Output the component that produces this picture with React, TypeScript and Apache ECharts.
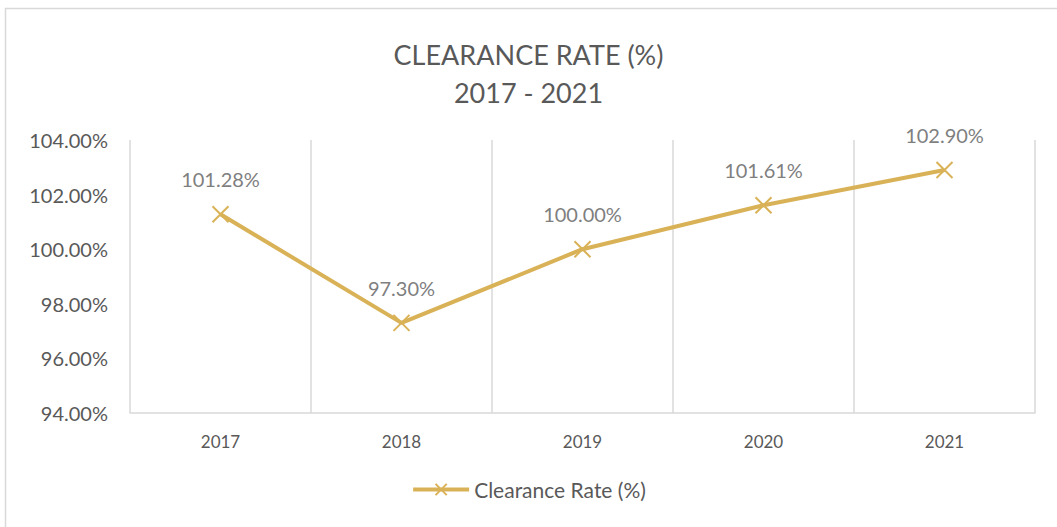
import React, { useEffect, useRef } from "react";
import * as echarts from "echarts";

const categories = ["2017", "2018", "2019", "2020", "2021"];
const clearanceRate = [101.28, 97.3, 100.0, 101.61, 102.9];
const seriesName = "Clearance Rate (%)";
const titleLines = ["CLEARANCE RATE (%)", "2017 - 2021"];
const yMin = 94;
const yMax = 104;
const yStep = 2;

const GOLD = "#D9B257";
const XMARK = "path://M0,0L10,10M10,0L0,10";

export default function App() {
  const ref = useRef<HTMLDivElement>(null);
  useEffect(() => {
    if (!ref.current) return;
    const chart = echarts.init(ref.current, undefined, { renderer: "svg" });
    chart.setOption({
      animation: false,
      backgroundColor: "#ffffff",
      textStyle: { fontFamily: "Lato, 'Open Sans', sans-serif" },
      title: {
        text: titleLines.join("\n"),
        left: "center",
        top: 30,
        textStyle: {
          fontSize: 27,
          fontWeight: "normal",
          color: "#595959",
          lineHeight: 38,
          fontFamily: "Lato, 'Open Sans', sans-serif",
        },
      },
      graphic: [
        {
          type: "rect",
          shape: { x: 5.5, y: 8.5, width: 1200, height: 700 },
          style: { fill: "none", stroke: "#d9d9d9", lineWidth: 1.5 },
          silent: true,
        },
      ],
      legend: {
        bottom: 22,
        left: "center",
        itemWidth: 56,
        itemHeight: 14,
        itemGap: 8,
        lineStyle: { width: 4, color: GOLD },
        textStyle: { fontSize: 21, color: "#595959" },
        data: [seriesName],
      },
      grid: { left: 130, right: 22, top: 140, bottom: 114 },
      xAxis: {
        type: "category",
        data: categories,
        boundaryGap: true,
        axisLine: { show: true, lineStyle: { color: "#d9d9d9", width: 1.5 } },
        axisTick: { show: false },
        splitLine: { show: true, lineStyle: { color: "#d9d9d9", width: 1.5 } },
        axisLabel: { color: "#595959", fontSize: 17, margin: 20 },
      },
      yAxis: {
        type: "value",
        min: yMin,
        max: yMax,
        interval: yStep,
        axisLine: { show: false },
        axisTick: { show: false },
        splitLine: { show: false },
        axisLabel: {
          color: "#595959",
          fontSize: 20,
          margin: 22,
          formatter: (v: number) => v.toFixed(2) + "%",
        },
      },
      series: [
        {
          name: seriesName,
          type: "line",
          data: clearanceRate,
          symbol: XMARK,
          symbolSize: 16,
          lineStyle: { color: GOLD, width: 4 },
          itemStyle: { color: GOLD, borderColor: GOLD, borderWidth: 2 },
          label: {
            show: true,
            position: "top",
            distance: 16,
            color: "#7f7f7f",
            fontSize: 20,
            formatter: (p: any) => Number(p.value).toFixed(2) + "%",
          },
        },
      ],
    });
    return () => chart.dispose();
  }, []);
  return (
    <div
      ref={ref}
      style={{ position: "fixed", left: 0, top: 0, width: 1057, height: 527 }}
    />
  );
}
